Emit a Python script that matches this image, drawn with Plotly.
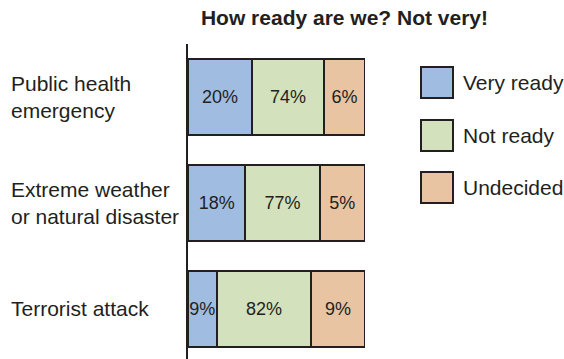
import plotly.graph_objects as go

# ---- data ----
categories = ["Public health emergency", "Extreme weather or natural disaster", "Terrorist attack"]
category_labels = ["Public health<br>emergency", "Extreme weather<br>or natural disaster", "Terrorist attack"]
series_names = ["Very ready", "Not ready", "Undecided"]

# percentages printed on the bars
very_ready_pct = [20, 18, 9]
not_ready_pct = [74, 77, 82]
undecided_pct = [6, 5, 9]

# segment lengths as drawn in the picture (share of each full bar, 0-100)
very_ready_drawn = [36.2, 32.4, 16.2]
not_ready_drawn = [40.7, 42.0, 53.4]
undecided_drawn = [23.1, 25.6, 30.4]

colors = ["#A0BDE1", "#D3E1BD", "#E8C4A2"]
edge = "#231F20"
txt = "#231F20"
font_family = "Liberation Sans, Arial, Helvetica, sans-serif"

W, H = 564, 359
ML, MR, MT, MB = 188, 199, 44, 0
PW = W - ML - MR
PH = H - MT - MB


def px_x(px):
    return (px - ML) / PW


def px_y(py):
    return (H - MB - py) / PH


fig = go.Figure()
for name, lens, pcts, col in zip(
    series_names,
    [very_ready_drawn, not_ready_drawn, undecided_drawn],
    [very_ready_pct, not_ready_pct, undecided_pct],
    colors,
):
    fig.add_trace(go.Bar(
        y=categories, x=lens, orientation="h", name=name,
        text=[f"{p}%" for p in pcts], textposition="inside", textangle=0,
        insidetextanchor="middle", constraintext="none",
        textfont=dict(size=18, color=txt, family=font_family),
        marker=dict(color=col, line=dict(color=edge, width=2)),
        showlegend=False, hoverinfo="skip",
    ))

annotations = []
for cat, lab in zip(categories, category_labels):
    annotations.append(dict(
        x=px_x(9), xref="paper", y=cat, yref="y", text=lab,
        xanchor="left", yanchor="middle", align="left", showarrow=False,
        font=dict(size=21, color=txt, family=font_family),
    ))

shapes = []
box_tops = [67, 120, 172]
for name, col, top in zip(series_names, colors, box_tops):
    shapes.append(dict(
        type="rect", xref="paper", yref="paper",
        x0=px_x(421), x1=px_x(453), y0=px_y(top + 31), y1=px_y(top),
        fillcolor=col, line=dict(color=edge, width=2),
    ))
    annotations.append(dict(
        x=px_x(461), xref="paper", y=px_y(top + 15.5), yref="paper",
        text=name, xanchor="left", yanchor="middle", showarrow=False,
        font=dict(size=21, color=txt, family=font_family),
    ))

fig.update_layout(
    width=W, height=H,
    margin=dict(l=ML, r=MR, t=MT, b=MB, pad=0),
    barmode="stack", bargap=0.283,
    paper_bgcolor="white", plot_bgcolor="white",
    title=dict(text="<b>How ready are we? Not very!</b>", x=344.5 / W, xanchor="center",
               y=1 - 18 / H, yanchor="middle",
               font=dict(size=21, color=txt, family=font_family)),
    xaxis=dict(range=[0, 100], visible=False, fixedrange=True),
    yaxis=dict(categoryorder="array", categoryarray=categories, range=[2.472, -0.5],
               showline=True, linecolor=edge, linewidth=1.5, showticklabels=False,
               showgrid=False, zeroline=False, ticks="", fixedrange=True),
    uniformtext=dict(minsize=18, mode="show"),
    annotations=annotations, shapes=shapes,
)

fig.write_html("out.html", config={"displayModeBar": False},
               post_script="document.body.style.margin='0px';")
